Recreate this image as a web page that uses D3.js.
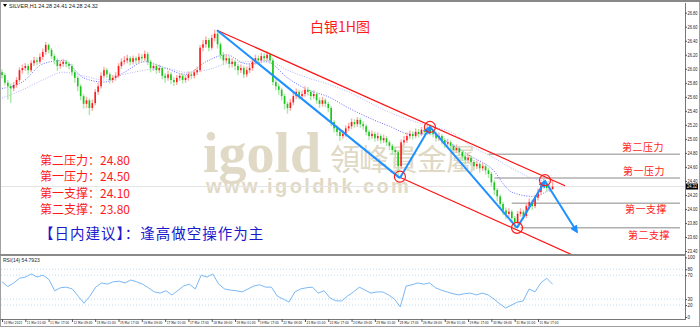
<!DOCTYPE html>
<html>
<head>
<meta charset="utf-8">
<script src="https://cdn.jsdelivr.net/npm/d3@7"></script>
<style>
body { margin: 0; background: #fff; }
svg { display: block; }
.tiny { font-family: 'Liberation Sans', Arial, sans-serif; font-size: 5.5px; fill: #222; }
</style>
</head>
<body>
<svg id="chart" width="700" height="328"></svg>
<script>
// hourly silver bars, open = previous close
const firstOpen = 25.95;
const closes = [
  25.91, 25.80, 25.75, 25.72, 25.77, 25.84, 25.98, 26.01, 26.04, 25.98,
  26.08, 26.12, 26.10, 26.17, 26.24, 26.34, 26.27, 26.18, 26.12, 26.04,
  26.07, 26.10, 26.07, 26.04, 25.95, 25.87, 25.75, 25.61, 25.50, 25.55,
  25.44, 25.51, 25.67, 25.75, 25.90, 25.98, 25.92, 25.84, 25.87, 25.90,
  26.04, 26.10, 26.12, 26.15, 26.10, 26.15, 26.12, 26.17, 26.15, 26.21,
  26.10, 26.01, 26.04, 25.98, 26.01, 25.90, 25.87, 25.92, 25.84, 25.81,
  25.87, 25.90, 25.84, 25.87, 25.92, 25.90, 25.95, 25.98, 26.30, 26.35,
  26.41, 26.30, 26.44, 26.50, 26.35, 26.20, 26.12, 26.15, 26.07, 26.10,
  26.04, 25.98, 26.01, 25.92, 25.98, 26.01, 26.10, 26.15, 26.12, 26.18,
  26.15, 26.20, 26.12, 25.81, 25.75, 25.70, 25.61, 25.50, 25.44, 25.52,
  25.61, 25.67, 25.61, 25.64, 25.70, 25.67, 25.61, 25.64, 25.55, 25.50,
  25.55, 25.50, 25.44, 25.24, 25.15, 25.10, 25.04, 25.07, 25.15, 25.18,
  25.24, 25.21, 25.27, 25.21, 25.18, 25.10, 25.04, 25.07, 25.01, 25.04,
  24.98, 25.01, 24.95, 24.90, 24.84, 24.81, 24.61, 24.95, 24.98, 25.04,
  25.07, 25.04, 25.10, 25.07, 25.13, 25.10, 25.15, 25.10, 25.07, 25.01,
  25.04, 24.98, 24.93, 24.95, 24.90, 24.84, 24.87, 24.81, 24.75, 24.70,
  24.73, 24.67, 24.61, 24.64, 24.58, 24.61, 24.55, 24.50, 24.38, 24.27,
  24.18, 24.07, 23.98, 23.93, 23.96, 23.87, 23.81, 23.93, 23.96, 23.90,
  24.04, 24.10, 24.04, 24.16, 24.24, 24.33, 24.36, 24.30, 24.28, 24.32
];
const highs = [
  25.99, 25.94, 25.84, 25.79, 25.81, 25.88, 26.02, 26.06, 26.08, 26.07,
  26.12, 26.17, 26.16, 26.22, 26.29, 26.38, 26.36, 26.30, 26.21, 26.15,
  26.11, 26.14, 26.13, 26.10, 26.07, 25.98, 25.90, 25.78, 25.64, 25.60,
  25.58, 25.56, 25.71, 25.80, 25.95, 26.03, 26.01, 25.95, 25.91, 25.95,
  26.08, 26.15, 26.18, 26.20, 26.18, 26.19, 26.18, 26.22, 26.21, 26.26,
  26.24, 26.13, 26.08, 26.07, 26.06, 26.04, 25.94, 25.97, 25.95, 25.88,
  25.91, 25.94, 25.93, 25.91, 25.96, 25.96, 25.99, 26.03, 26.34, 26.41,
  26.46, 26.44, 26.49, 26.56, 26.53, 26.38, 26.24, 26.21, 26.18, 26.15,
  26.13, 26.07, 26.06, 26.04, 26.03, 26.07, 26.15, 26.20, 26.19, 26.23,
  26.22, 26.25, 26.23, 26.15, 25.85, 25.79, 25.73, 25.64, 25.53, 25.57,
  25.66, 25.72, 25.70, 25.69, 25.75, 25.74, 25.70, 25.69, 25.67, 25.59,
  25.60, 25.58, 25.53, 25.47, 25.27, 25.19, 25.13, 25.12, 25.19, 25.23,
  25.29, 25.28, 25.31, 25.30, 25.25, 25.21, 25.13, 25.12, 25.10, 25.09,
  25.07, 25.06, 25.04, 24.98, 24.93, 24.88, 24.84, 24.99, 25.04, 25.09,
  25.12, 25.11, 25.15, 25.14, 25.17, 25.16, 25.19, 25.21, 25.14, 25.10,
  25.09, 25.07, 25.01, 25.00, 24.98, 24.93, 24.92, 24.90, 24.84, 24.79,
  24.78, 24.76, 24.70, 24.69, 24.67, 24.66, 24.64, 24.59, 24.53, 24.41,
  24.30, 24.21, 24.10, 24.02, 24.01, 23.99, 23.90, 23.97, 24.01, 23.99,
  24.08, 24.15, 24.13, 24.20, 24.29, 24.38, 24.43, 24.39, 24.35, 24.41
];
const lows = [
  25.86, 25.76, 25.56, 25.51, 25.68, 25.73, 25.81, 25.93, 25.97, 25.92,
  25.95, 26.04, 26.05, 26.07, 26.13, 26.20, 26.22, 26.14, 26.06, 25.97,
  26.00, 26.03, 26.02, 25.99, 25.90, 25.80, 25.68, 25.55, 25.43, 25.44,
  25.34, 25.40, 25.48, 25.63, 25.72, 25.86, 25.87, 25.79, 25.80, 25.83,
  25.87, 26.00, 26.06, 26.08, 26.05, 26.06, 26.07, 26.08, 26.10, 26.11,
  26.05, 25.95, 25.97, 25.93, 25.94, 25.85, 25.80, 25.83, 25.78, 25.75,
  25.77, 25.83, 25.79, 25.80, 25.83, 25.85, 25.86, 25.91, 25.95, 26.25,
  26.30, 26.25, 26.27, 26.39, 26.29, 26.14, 26.05, 26.08, 26.01, 26.02,
  25.98, 25.91, 25.94, 25.87, 25.88, 25.94, 25.97, 26.06, 26.07, 26.08,
  26.10, 26.11, 26.07, 25.76, 25.69, 25.63, 25.55, 25.42, 25.36, 25.40,
  25.48, 25.57, 25.56, 25.57, 25.60, 25.62, 25.55, 25.57, 25.50, 25.44,
  25.46, 25.45, 25.38, 25.18, 25.09, 25.04, 24.97, 25.00, 25.03, 25.11,
  25.14, 25.16, 25.17, 25.16, 25.13, 25.05, 24.98, 25.00, 24.96, 24.97,
  24.93, 24.94, 24.90, 24.84, 24.78, 24.74, 24.44, 24.57, 24.91, 24.94,
  25.00, 24.99, 25.01, 25.02, 25.04, 25.05, 25.06, 25.05, 25.02, 24.96,
  24.97, 24.92, 24.87, 24.88, 24.85, 24.78, 24.80, 24.76, 24.69, 24.63,
  24.66, 24.62, 24.55, 24.57, 24.52, 24.54, 24.49, 24.44, 24.32, 24.20,
  24.11, 24.01, 23.91, 23.86, 23.88, 23.80, 23.73, 23.78, 23.89, 23.85,
  23.87, 24.00, 23.99, 24.01, 24.12, 24.20, 24.29, 24.25, 24.24, 24.28
];

// two moving averages, one value every 7 bars
const maFast = [
  25.72, 25.81, 26.07, 26.12, 25.87, 25.81, 25.95, 26.10, 26.01, 25.92,
  26.10, 26.20, 26.07, 26.10, 25.87, 25.70, 25.60, 25.44, 25.30, 25.18,
  25.07, 25.07, 24.93, 24.75, 24.58, 24.24, 24.18, 24.30
];
const maSlow = [
  25.58, 25.70, 25.84, 25.95, 25.90, 25.84, 25.92, 25.98, 26.01, 25.95,
  25.98, 26.07, 26.10, 26.12, 25.98, 25.87, 25.78, 25.67, 25.52, 25.38,
  25.27, 25.18, 25.10, 24.90, 24.75, 24.58, 24.44, 24.38
];

// RSI(14), one value about every 2 bars
const rsi = [
  59, 51, 57, 65, 67, 72, 67, 70, 63, 44, 49, 50, 47, 35, 23, 35, 50, 57, 55, 59,
  60, 57, 62, 59, 55, 49, 42, 40, 44, 37, 44, 52, 55, 47, 70, 67, 72, 55, 47, 45,
  44, 42, 47, 52, 54, 50, 50, 35, 30, 25, 42, 47, 49, 50, 40, 44, 32, 27, 27, 35,
  42, 50, 45, 40, 42, 42, 37, 30, 17, 52, 54, 57, 55, 57, 49, 45, 42, 39, 37, 39,
  40, 37, 40, 37, 30, 22, 15, 20, 25, 27, 47, 42, 57, 65, 55
];

const dateLabels = [
  '10 Mar 2021', '11 Mar 01:00', '11 Mar 17:00', '12 Mar 09:00', '15 Mar 01:00',
  '15 Mar 17:00', '16 Mar 09:00', '17 Mar 01:00', '17 Mar 17:00', '18 Mar 09:00',
  '19 Mar 01:00', '19 Mar 17:00', '22 Mar 09:00', '23 Mar 01:00', '23 Mar 17:00',
  '24 Mar 09:00', '25 Mar 01:00', '25 Mar 17:00', '26 Mar 09:00', '29 Mar 01:00',
  '29 Mar 17:00', '30 Mar 09:00', '31 Mar 01:00', '31 Mar 17:00'
];
const priceTicks = [26.80, 26.60, 26.40, 26.20, 26.00, 25.80, 25.60, 25.40, 25.20,
  25.00, 24.80, 24.60, 24.40, 24.20, 24.00, 23.80, 23.60, 23.40];
const rsiTicks = [100, 80, 70, 30, 20, 0];
const rsiLevels = [80, 70, 30, 20];

// analyst drawings: [bar index, price]
const upperChannel = [[73.8, 26.55], [193.3, 24.33]];
const lowerChannel = [[135.6, 24.47], [196, 23.34]];
const zigzag = [[73.8, 26.55], [136.6, 24.44], [146.9, 25.17], [176.8, 23.73], [186.4, 24.40], [197.4, 23.67]];
const circles = [[136.6, 24.46], [146.9, 25.17], [176.8, 23.73], [186.4, 24.41]];
const levelPrices = [24.78, 24.44, 24.08, 23.73];
const levelStart = [167, 169, 175, 178];
const levelNames = ['第二压力', '第一压力', '第一支撑', '第二支撑'];
const levelNotes = ['第二压力：24.80', '第一压力：24.50', '第一支撑：24.10', '第二支撑：23.80'];

const header = 'SILVER,H1  24.28 24.41 24.28 24.32';
const lastPrice = 24.32;

var W = 700, H = 328,
    plotRight = 685,
    mainTop = 3, mainBottom = 254,
    rsiTop = 256, rsiBottom = 319;

var svg = d3.select('#chart');

var x = d3.scaleLinear().domain([0, 184]).range([2, 538]);
var y = d3.scaleLinear().domain([23.40, 26.80]).range([251, 12.7]);
var yr = d3.scaleLinear().domain([0, 100]).range([317, 257.3]);

svg.append('defs').append('clipPath').attr('id', 'mainclip')
  .append('rect').attr('x', 1).attr('y', mainTop).attr('width', plotRight - 1).attr('height', mainBottom - mainTop);
svg.select('defs').append('marker')
    .attr('id', 'arrow').attr('viewBox', '0 0 10 10').attr('refX', 8).attr('refY', 5)
    .attr('markerWidth', 4).attr('markerHeight', 4).attr('orient', 'auto')
  .append('path').attr('d', 'M0,0L10,5L0,10z').attr('fill', '#1e90ff');

// frame
svg.append('rect').attr('x', 0).attr('y', 0).attr('width', W).attr('height', H).attr('fill', '#fff');
svg.append('rect').attr('x', 0.5).attr('y', 1).attr('width', W - 1).attr('height', H - 2.5)
  .attr('fill', 'none').attr('stroke', '#a0a0a0').attr('stroke-width', 1);
svg.append('line').attr('x1', 0).attr('x2', W).attr('y1', 1).attr('y2', 1).attr('stroke', '#888').attr('stroke-width', 2);

// watermark
var wm = svg.append('g').attr('fill', '#e0d9c6');
wm.append('text').attr('x', 203).attr('y', 172)
  .style('font-family', "'Liberation Serif', 'DejaVu Serif', serif").style('font-weight', 'bold').style('font-size', '56px')
  .text('igold');
wm.append('text').attr('x', 330).attr('y', 170)
  .style('font-family', "'Noto Sans CJK TC'").style('font-size', '30px').style('letter-spacing', '-1px')
  .text('領峰貴金屬');
wm.append('text').attr('x', 206).attr('y', 193)
  .style('font-family', "'Liberation Sans', Arial, sans-serif").style('font-weight', 'bold').style('font-size', '20px')
  .style('letter-spacing', '2.4px')
  .text('www.igoldhk.com');

var main = svg.append('g').attr('clip-path', 'url(#mainclip)');

// current price line
main.append('line').attr('x1', 1).attr('x2', plotRight).attr('y1', y(lastPrice)).attr('y2', y(lastPrice))
  .attr('stroke', '#e4e4e4').attr('stroke-width', 1);

// support / resistance lines
main.selectAll('.level').data(levelPrices).enter().append('line')
  .attr('x1', function(d, i) { return x(levelStart[i]); })
  .attr('x2', 680)
  .attr('y1', function(d) { return y(d); })
  .attr('y2', function(d) { return y(d); })
  .attr('stroke', '#b0b0b0').attr('stroke-width', 1.5);

// moving averages
var maLine = d3.line()
  .curve(d3.curveMonotoneX)
  .x(function(d, i) { return x(i * 7); })
  .y(function(d) { return y(d); });
main.append('path').attr('d', maLine(maSlow)).attr('fill', 'none')
  .attr('stroke', '#b4b4ff').attr('stroke-width', 1).attr('stroke-dasharray', '1,1.5');
main.append('path').attr('d', maLine(maFast)).attr('fill', 'none')
  .attr('stroke', '#6a6aff').attr('stroke-width', 1).attr('stroke-dasharray', '1,1.5');

// candles
var bars = closes.map(function(c, i) {
  return { i: i, o: i ? closes[i - 1] : firstOpen, c: c, h: highs[i], l: lows[i] };
});
var candle = main.selectAll('.candle').data(bars).enter().append('g').attr('class', 'candle');
candle.append('line')
  .attr('x1', function(d) { return x(d.i); })
  .attr('x2', function(d) { return x(d.i); })
  .attr('y1', function(d) { return y(d.h); })
  .attr('y2', function(d) { return y(d.l); })
  .attr('stroke', function(d) { return d.c >= d.o ? '#ffa8a8' : '#a8e8a8'; })
  .attr('stroke-width', 1.4);
candle.append('rect')
  .attr('x', function(d) { return x(d.i) - 0.8; })
  .attr('width', 1.6)
  .attr('y', function(d) { return y(Math.max(d.o, d.c)); })
  .attr('height', function(d) { return Math.max(1, Math.abs(y(d.o) - y(d.c))); })
  .attr('fill', function(d) { return d.c >= d.o ? '#ff1a1a' : '#19c419'; });

// channel
var pl = d3.line().x(function(d) { return x(d[0]); }).y(function(d) { return y(d[1]); });
[upperChannel, lowerChannel].forEach(function(seg) {
  main.append('path').attr('d', pl(seg)).attr('fill', 'none').attr('stroke', '#ff1010').attr('stroke-width', 1.2);
});

// zigzag
d3.pairs(zigzag).forEach(function(p, k) {
  main.append('path').attr('d', pl(p)).attr('fill', 'none')
    .attr('stroke', '#1e90ff').attr('stroke-width', 2)
    .attr('marker-end', k % 2 === 1 || k === 4 ? 'url(#arrow)' : null);
});

main.selectAll('.ring').data(circles).enter().append('circle')
  .attr('cx', function(d) { return x(d[0]); })
  .attr('cy', function(d) { return y(d[1]); })
  .attr('r', 5.5).attr('fill', 'none').attr('stroke', '#ff1a1a').attr('stroke-width', 1.2);

// title and notes
var cjk = "'Noto Sans CJK SC', sans-serif";
svg.append('text').attr('x', 340).attr('y', 32).attr('text-anchor', 'middle')
  .style('font-family', cjk).style('font-size', '14px').attr('fill', '#ff1a1a').text('白银1H图');

svg.selectAll('.note').data(levelNotes).enter().append('text')
  .attr('x', 40).attr('y', function(d, i) { return 165 + i * 16.3; })
  .style('font-family', cjk).style('font-size', '12px').attr('fill', '#ff1a1a')
  .text(function(d) { return d; });
svg.append('text').attr('x', 39).attr('y', 239)
  .style('font-family', cjk).style('font-size', '14.5px').style('letter-spacing', '1px').attr('fill', '#1a1acc')
  .text('【日内建议】：逢高做空操作为主');

var nameY = [147, 171, 209, 235];
svg.selectAll('.lname').data(levelNames).enter().append('text')
  .attr('x', function(d, i) { return [622, 623, 625, 628][i]; })
  .attr('y', function(d, i) { return nameY[i] + 3.5; })
  .style('font-family', cjk).style('font-size', '10px').style('letter-spacing', '0.5px').attr('fill', '#ff1a1a')
  .text(function(d) { return d; });

// header
svg.append('path').attr('d', 'M3,4L7,4L5,7z').attr('fill', '#000');
svg.append('text').attr('class', 'tiny').attr('x', 9).attr('y', 8).text(header);

// price axis
var ya = svg.append('g').attr('transform', 'translate(' + plotRight + ',0)')
  .call(d3.axisRight(y).tickValues(priceTicks).tickSize(2).tickFormat(d3.format('.2f')));
ya.select('.domain').attr('d', 'M0.5,' + mainTop + 'V' + mainBottom).attr('stroke', '#777');
ya.selectAll('text').attr('class', 'tiny').attr('x', 2.5).style('font-size', '4.5px')
  .attr('textLength', 10).attr('lengthAdjust', 'spacingAndGlyphs').attr('fill', '#333');
ya.selectAll('line').attr('stroke', '#555');

var tag = svg.append('g').attr('transform', 'translate(' + (plotRight + 1) + ',' + y(lastPrice) + ')');
tag.append('rect').attr('x', 0).attr('y', -3).attr('width', 12).attr('height', 6).attr('fill', '#000');
tag.append('text').attr('class', 'tiny').attr('x', 1).attr('y', 1.7).style('font-size', '4.5px')
  .attr('textLength', 10).attr('lengthAdjust', 'spacingAndGlyphs').style('fill', '#fff').text(lastPrice.toFixed(2));

// panel separators
svg.append('line').attr('x1', 0).attr('x2', plotRight + 1).attr('y1', 255).attr('y2', 255)
  .attr('stroke', '#8a8a8a').attr('stroke-width', 2);

// RSI panel
svg.selectAll('.rlev').data(rsiLevels).enter().append('line')
  .attr('x1', 1).attr('x2', plotRight)
  .attr('y1', function(d) { return yr(d); }).attr('y2', function(d) { return yr(d); })
  .attr('stroke', '#a9d2ee').attr('stroke-width', 0.8).attr('stroke-dasharray', '1,2');

var rsiStep = (closes.length - 1) / (rsi.length - 1);
svg.append('path')
  .attr('d', d3.line().x(function(d, j) { return x(j * rsiStep); }).y(function(d) { return yr(d); })(rsi))
  .attr('fill', 'none').attr('stroke', '#7ab8f5').attr('stroke-width', 1);

svg.append('text').attr('class', 'tiny').attr('x', 3).attr('y', 262).style('font-size', '5px').text('RSI(14) 54.7923');

var ra = svg.append('g').attr('transform', 'translate(' + plotRight + ',0)')
  .call(d3.axisRight(yr).tickValues(rsiTicks).tickSize(2));
ra.select('.domain').attr('d', 'M0.5,' + rsiTop + 'V' + rsiBottom).attr('stroke', '#777');
ra.selectAll('text').attr('class', 'tiny').attr('x', 2.5).style('font-size', '4.5px').attr('fill', '#333');
ra.selectAll('line').attr('stroke', '#555');

// time axis
var xa = svg.append('g').attr('transform', 'translate(0,' + rsiBottom + ')')
  .call(d3.axisBottom(x).tickValues(d3.range(0, 185, 8)).tickSize(3)
    .tickFormat(function(d, i) { return dateLabels[i]; }));
xa.select('.domain').attr('d', 'M0,0.5H' + (plotRight + 1)).attr('stroke', '#777');
xa.selectAll('text').attr('class', 'tiny').attr('text-anchor', 'start').attr('x', 1).attr('y', 2.5)
  .attr('dy', '0.71em')
  .style('font-family', "'Liberation Sans Narrow', 'DejaVu Sans Condensed', 'Liberation Sans', sans-serif")
  .style('font-size', '4px')
  .attr('textLength', 19).attr('lengthAdjust', 'spacingAndGlyphs').attr('fill', '#333');
xa.selectAll('line').attr('stroke', '#555');
</script>
</body>
</html>
